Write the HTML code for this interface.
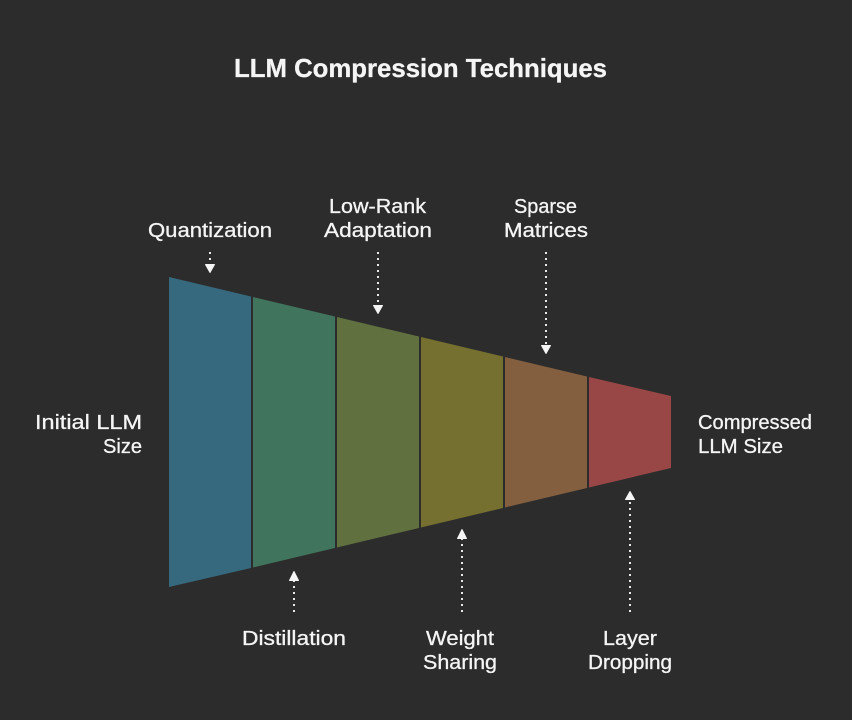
<!DOCTYPE html>
<html><head><meta charset="utf-8"><style>
html,body{margin:0;padding:0;background:#2c2c2c;width:852px;height:720px;overflow:hidden}
svg{display:block}
text{font-family:"Liberation Sans",sans-serif;font-size:20px;fill:#f5f5f5;stroke:#f5f5f5;stroke-width:.3px}
.d{stroke:#e8e8e8;stroke-width:2;stroke-dasharray:2 4;fill:none}
.a{fill:#f5f5f5;stroke:#f5f5f5;stroke-width:1;stroke-linejoin:round}
</style></head><body>
<svg width="852" height="720" viewBox="0 0 852 720" xmlns="http://www.w3.org/2000/svg">
<rect width="852" height="720" fill="#2c2c2c"/>
<polygon points="169,277 251,296.5 251,568 169,587" fill="#36697e"/>
<polygon points="253,297 335,316.5 335,548 253,567.5" fill="#41745c"/>
<polygon points="337,317 419,336.5 419,528 337,547.5" fill="#60703f"/>
<polygon points="421,337 503,356.5 503,508 421,527.5" fill="#75702f"/>
<polygon points="505,357 587,376.5 587,488 505,507.5" fill="#835f3f"/>
<polygon points="589,377 671,396 671,468 589,487.5" fill="#984746"/>

<path class="d" d="M210 252V264"/><polygon class="a" points="205.500,264.500 214.500,264.500 210,272.500"/>
<path class="d" d="M378 252V305"/><polygon class="a" points="373.500,305.500 382.500,305.500 378,313.500"/>
<path class="d" d="M546 252V345"/><polygon class="a" points="541.500,345.500 550.500,345.500 546,353.500"/>
<path class="d" d="M294 612V580"/><polygon class="a" points="289.500,580.500 298.500,580.500 294,571.500"/>
<path class="d" d="M462 612V539"/><polygon class="a" points="457.500,538.500 466.500,538.500 462,529.500"/>
<path class="d" d="M630 612V500"/><polygon class="a" points="625.500,499.500 634.500,499.500 630,491.500"/>

<text x="234" y="77" textLength="373" lengthAdjust="spacingAndGlyphs" style="font-size:26px;font-weight:bold">LLM Compression Techniques</text>
<text x="148" y="237" textLength="124" lengthAdjust="spacingAndGlyphs">Quantization</text>
<text x="329" y="213" textLength="97" lengthAdjust="spacingAndGlyphs">Low-Rank</text>
<text x="324" y="237" textLength="108" lengthAdjust="spacingAndGlyphs">Adaptation</text>
<text x="514" y="213" textLength="63" lengthAdjust="spacingAndGlyphs">Sparse</text>
<text x="504" y="237" textLength="84" lengthAdjust="spacingAndGlyphs">Matrices</text>
<text x="35" y="429" textLength="107" lengthAdjust="spacingAndGlyphs">Initial LLM</text>
<text x="103" y="453" textLength="39" lengthAdjust="spacingAndGlyphs">Size</text>
<text x="698" y="429" textLength="114" lengthAdjust="spacingAndGlyphs">Compressed</text>
<text x="698" y="453" textLength="85" lengthAdjust="spacingAndGlyphs">LLM Size</text>
<text x="242" y="645" textLength="104" lengthAdjust="spacingAndGlyphs">Distillation</text>
<text x="426" y="645" textLength="68" lengthAdjust="spacingAndGlyphs">Weight</text>
<text x="423" y="669" textLength="74" lengthAdjust="spacingAndGlyphs">Sharing</text>
<text x="603" y="645" textLength="54" lengthAdjust="spacingAndGlyphs">Layer</text>
<text x="588" y="669" textLength="84" lengthAdjust="spacingAndGlyphs">Dropping</text>
</svg>
</body></html>
